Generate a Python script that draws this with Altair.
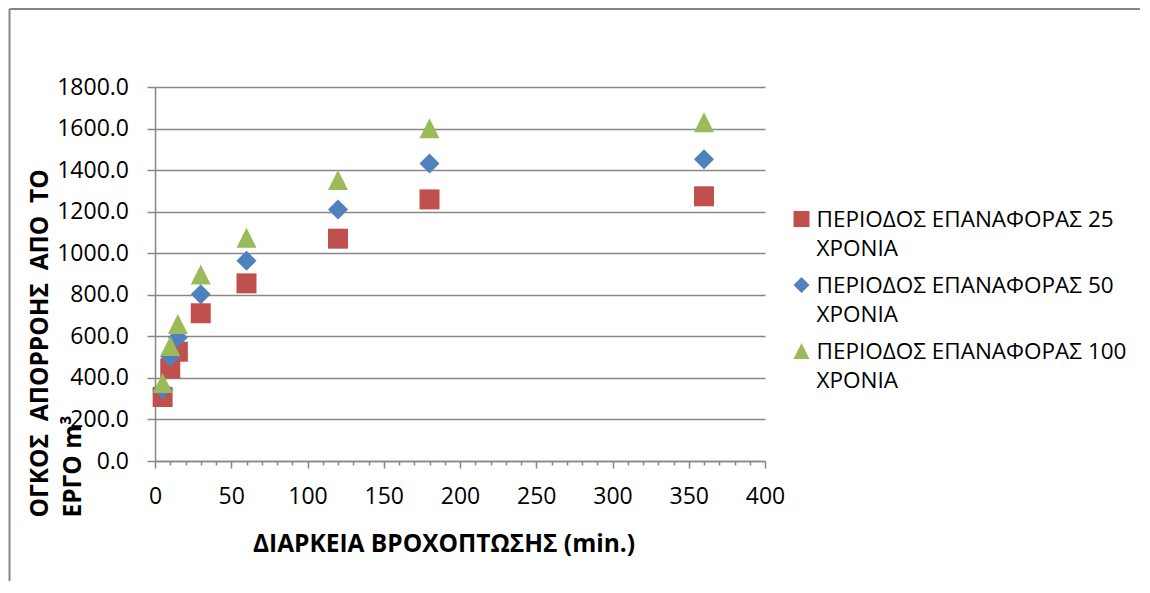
import altair as alt
import pandas as pd

# ---- data ----
durations = [5, 10, 15, 30, 60, 120, 180, 360]
vol_25 = [308, 446, 526, 711, 855, 1070, 1259, 1274]
vol_50 = [345, 503, 594, 802, 964, 1211, 1432, 1452]
vol_100 = [376, 553, 659, 897, 1075, 1352, 1602, 1630]

series_names = [
    "ΠΕΡΙΟΔΟΣ ΕΠΑΝΑΦΟΡΑΣ 25 ΧΡΟΝΙΑ",
    "ΠΕΡΙΟΔΟΣ ΕΠΑΝΑΦΟΡΑΣ 50 ΧΡΟΝΙΑ",
    "ΠΕΡΙΟΔΟΣ ΕΠΑΝΑΦΟΡΑΣ 100 ΧΡΟΝΙΑ",
]
legend_labels = [
    "ΠΕΡΙΟΔΟΣ ΕΠΑΝΑΦΟΡΑΣ 25\nΧΡΟΝΙΑ",
    "ΠΕΡΙΟΔΟΣ ΕΠΑΝΑΦΟΡΑΣ 50\nΧΡΟΝΙΑ",
    "ΠΕΡΙΟΔΟΣ ΕΠΑΝΑΦΟΡΑΣ 100\nΧΡΟΝΙΑ",
]
colors = ["#C0504D", "#4F81BD", "#9BBB59"]
shapes = ["square", "diamond", "M0,-1L1,1L-1,1Z"]

x_ticks = list(range(0, 401, 10))
y_ticks = list(range(0, 1801, 200))

x_title = "ΔΙΑΡΚΕΙΑ ΒΡΟΧΟΠΤΩΣΗΣ (min.)"
y_title = [
    "\u00a0" * 7 + "ΟΓΚΟΣ\u00a0 ΑΠΟΡΡΟΗΣ\u00a0 ΑΠΟ\u00a0 ΤΟ",
    "ΕΡΓΟ m³",
]

# ---- tables ----
rows = []
for name, vals in zip(series_names, [vol_25, vol_50, vol_100]):
    for d, v in zip(durations, vals):
        rows.append({"duration": d, "volume": v, "series": name})
df = pd.DataFrame(rows)
leg_df = pd.DataFrame({"series": series_names, "label": legend_labels})
one = pd.DataFrame({"k": [0]})

FONT = "Open Sans"
GRAY = "#878787"

color_scale = alt.Scale(domain=series_names, range=colors)
shape_scale = alt.Scale(domain=series_names, range=shapes)

points = alt.Chart(df).mark_point(filled=True, size=400, opacity=1).encode(
    x=alt.X(
        "duration:Q",
        scale=alt.Scale(domain=[0, 400], nice=False),
        axis=alt.Axis(
            values=x_ticks,
            labelExpr="datum.value % 50 == 0 ? datum.label : ''",
            labelOverlap=False,
            labelFlush=False,
            grid=False,
            tickSize={"condition": {"test": "datum.value % 50 == 0", "value": 7}, "value": 4},
            labelPadding=17,
            title=x_title,
            titleX=288.5,
            titleY=90,
            titleAlign="center",
            titleBaseline="alphabetic",
        ),
    ),
    y=alt.Y(
        "volume:Q",
        scale=alt.Scale(domain=[0, 1800], nice=False),
        axis=alt.Axis(
            values=y_ticks,
            format=".1f",
            tickSize=8,
            labelPadding=18.5,
            title=y_title,
            titleAngle=270,
            titleAlign="left",
            titleBaseline="top",
            titleX=-126.5,
            titleY=430,
            titleLineHeight=33,
        ),
    ),
    color=alt.Color("series:N", scale=color_scale, legend=None),
    shape=alt.Shape("series:N", scale=shape_scale, legend=None),
)

leg_y = alt.Y(
    "series:N",
    axis=None,
    scale=alt.Scale(type="point", domain=series_names, range=[132, 264], padding=0),
)
leg_sym = alt.Chart(leg_df).mark_point(filled=True, size=256, opacity=1).encode(
    x=alt.value(646.5),
    y=leg_y,
    color=alt.Color("series:N", scale=color_scale, legend=None),
    shape=alt.Shape("series:N", scale=shape_scale, legend=None),
)
leg_txt = alt.Chart(leg_df).mark_text(
    align="left", baseline="alphabetic", dy=7.5, lineBreak="\n", lineHeight=29.5,
    font=FONT, fontSize=22.5, color="black",
).encode(x=alt.value(661.5), y=leg_y, text="label:N")

frame_top = alt.Chart(one).mark_rule(color=GRAY, strokeWidth=2).encode(
    x=alt.value(-145.5), x2=alt.value(985), y=alt.value(-78)
)
frame_left = alt.Chart(one).mark_rule(color=GRAY, strokeWidth=2).encode(
    x=alt.value(-145.5), y=alt.value(-78), y2=alt.value(494)
)

chart = (
    alt.layer(frame_top, frame_left, points, leg_sym, leg_txt)
    .resolve_scale(y="independent")
    .properties(width=610, height=374, padding=0)
    .configure_view(stroke=None)
    .configure_axis(
        labelFont=FONT, labelFontSize=23, labelColor="black",
        titleFont=FONT, titleFontSize=24.5, titleFontWeight="bold", titleColor="black",
        domainColor=GRAY, domainWidth=1.5,
        tickColor=GRAY, tickWidth=1.5,
        gridColor=GRAY, gridWidth=1.5,
    )
)

chart.save("out.html", embed_options={"renderer": "svg", "actions": False})
